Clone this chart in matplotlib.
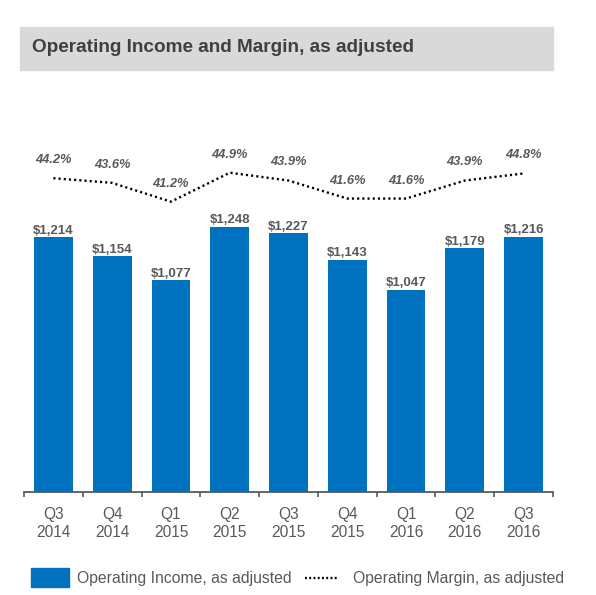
import numpy as np
import matplotlib
matplotlib.use('Agg')
import matplotlib.pyplot as plt
from matplotlib.patches import Rectangle
from matplotlib.lines import Line2D

plt.rcParams['font.family'] = ['Liberation Sans', 'DejaVu Sans']

quarters = ['Q3\n2014', 'Q4\n2014', 'Q1\n2015', 'Q2\n2015', 'Q3\n2015',
            'Q4\n2015', 'Q1\n2016', 'Q2\n2016', 'Q3\n2016']
income = [1214, 1154, 1077, 1248, 1227, 1143, 1047, 1179, 1216]
margin = [44.2, 43.6, 41.2, 44.9, 43.9, 41.6, 41.6, 43.9, 44.8]

blue = '#0071bf'
grey = '#595959'
W, H = 596, 595

fig = plt.figure(figsize=(W / 100, H / 100), dpi=100)

# title band
fig.patches.append(Rectangle((20 / W, 1 - 70 / H), 533 / W, 43 / H,
                             transform=fig.transFigure, color='#d9d9d9', zorder=0))
fig.text(32 / W, 1 - 48 / H, 'Operating Income and Margin, as adjusted',
         fontsize=13.7, fontweight='bold', color='#404040', va='center')

ax = fig.add_axes([24 / W, 1 - 492 / H, 529 / W, 352 / H])
x = np.arange(len(income))
ax.bar(x, income, width=0.66, color=blue, zorder=2)
ax.set_xlim(-0.5, len(income) - 0.5)
ax.set_ylim(400, 1525)
for s in ['top', 'right', 'left']:
    ax.spines[s].set_visible(False)
ax.spines['bottom'].set_color(grey)
ax.spines['bottom'].set_linewidth(1.3)
ax.set_yticks([])
ax.set_xticks(x)
ax.set_xticklabels(quarters, fontsize=11.2, color=grey, linespacing=1.2)
ax.tick_params(axis='x', which='major', length=0, pad=11)
ax.set_xticks(np.arange(-0.5, len(income)), minor=True)
ax.tick_params(axis='x', which='minor', length=3.5, width=1.2, color=grey)

for xi, v in zip(x, income):
    ax.annotate('${:,}'.format(v), (xi, v), xytext=(0, 2.5), textcoords='offset points',
                ha='center', va='baseline', fontsize=9.5, fontweight='bold', color=grey)

ax2 = ax.twinx()
ax2.set_ylim(4.17, 49.07)
ax2.set_yticks([])
for s in ax2.spines.values():
    s.set_visible(False)
ax2.plot(x, margin, color='black', lw=1.7, linestyle=(0, (0.9, 1.3)), zorder=3)
for xi, m in zip(x, margin):
    ax2.annotate('{:.1f}%'.format(m), (xi, m), xytext=(0, 13), textcoords='offset points',
                 ha='center', va='center', fontsize=9.3, fontweight='bold',
                 fontstyle='italic', color=grey)

# legend
fig.patches.append(Rectangle((31 / W, 1 - 587 / H), 38 / W, 19 / H,
                             transform=fig.transFigure, color=blue))
fig.text(77 / W, 1 - 578 / H, 'Operating Income, as adjusted', fontsize=11.3,
         color=grey, va='center')
fig.lines.append(Line2D([305 / W, 337 / W], [1 - 578 / H, 1 - 578 / H],
                        transform=fig.transFigure, color='black', lw=1.7,
                        linestyle=(0, (0.8, 1.0))))
fig.text(353 / W, 1 - 578 / H, 'Operating Margin, as adjusted', fontsize=11.3,
         color=grey, va='center')

fig.savefig('out.png', dpi=100)
